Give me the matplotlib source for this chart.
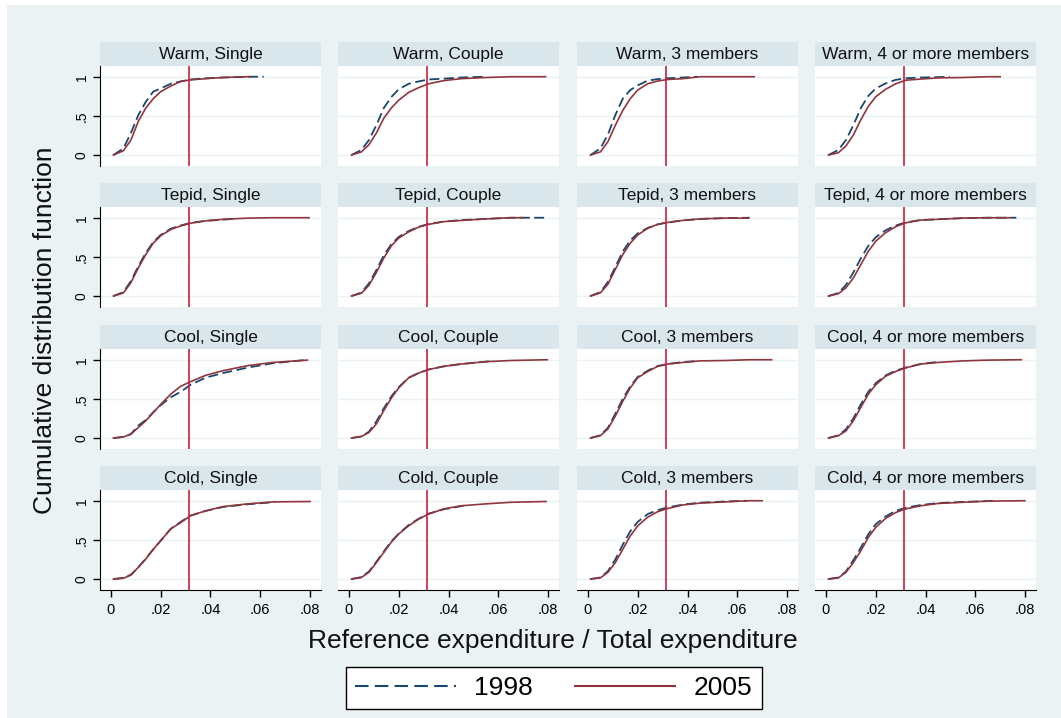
import matplotlib
matplotlib.use('Agg')
import matplotlib.pyplot as plt
from matplotlib.lines import Line2D
from matplotlib.patches import Rectangle

# ---------------- data ----------------
CLIMATES = ["Warm", "Tepid", "Cool", "Cold"]
HOUSEHOLDS = ["Single", "Couple", "3 members", "4 or more members"]
YEARS = ["1998", "2005"]
X_TICKS = [0, 0.02, 0.04, 0.06, 0.08]
X_TICK_LABELS = ["0", ".02", ".04", ".06", ".08"]
Y_TICKS = [0, 0.5, 1]
Y_TICK_LABELS = ["0", ".5", "1"]
REF_SHARE = 0.0314  # vertical reference line

# CDF read at these shares (only points below each curve's end are used)
X_GRID = [0.001, 0.005, 0.008, 0.011, 0.014, 0.017, 0.020, 0.024,
          0.028, 0.032, 0.038, 0.045, 0.055, 0.065]

# panels ordered row by row (climate) and column by column (household)
CDF_1998 = [
    [0, .085, .28, .51, .68, .81, .85, .91, .94, .965, .98, .99, 1.0],
    [0, .065, .19, .38, .60, .74, .84, .91, .94, .965, .975, .99],
    [0, .085, .26, .51, .72, .83, .89, .95, .97, .98, .99],
    [0, .065, .19, .38, .60, .755, .85, .915, .96, .98, .99, .995],
    [0, .05, .19, .38, .55, .69, .78, .86, .90, .935, .96, .975],
    [0, .045, .16, .33, .52, .66, .755, .83, .885, .92, .95, .97, .985, 1.0],
    [0, .05, .18, .37, .57, .71, .80, .87, .915, .94, .965, .985, .995],
    [0, .04, .14, .30, .48, .64, .75, .84, .90, .94, .97, .98, .995, 1.0],
    [0, .015, .05, .16, .23, .33, .42, .52, .59, .68, .77, .83, .90, .955],
    [0, .02, .08, .21, .38, .53, .65, .77, .83, .875, .915, .945, .975],
    [0, .035, .13, .31, .50, .66, .78, .86, .92, .945, .97],
    [0, .035, .11, .25, .43, .59, .70, .80, .86, .90, .945],
    [0, .015, .055, .15, .26, .38, .49, .64, .73, .81, .87, .92, .955, .98],
    [0, .025, .095, .22, .35, .48, .58, .69, .77, .835, .89, .93],
    [0, .02, .10, .25, .44, .61, .73, .83, .88, .915, .95, .975, .99],
    [0, .02, .095, .24, .40, .57, .70, .80, .87, .91, .945, .97, .985, .995],
]
END_X_1998 = [0.0614, 0.0545, 0.044, 0.0497, 0.049, 0.0797, 0.065, 0.0765,
              0.0775, 0.058, 0.0443, 0.0443, 0.066, 0.0465, 0.0638, 0.0685]
END_Y_1998 = [1.0, 1.0, 1.0, 1.0, 0.985, 1.0, 1.0, 1.0,
              0.995, 0.99, 0.985, 0.97, 0.985, 0.94, 1.0, 1.0]

CDF_2005 = [
    [0, .055, .19, .43, .60, .72, .81, .88, .94, .96, .975, .99, 1.0],
    [0, .04, .13, .28, .47, .60, .70, .80, .86, .91, .95, .975, .99, 1.0],
    [0, .04, .17, .38, .57, .72, .83, .91, .945, .965, .975, 1.0, 1.0, 1.0],
    [0, .03, .115, .255, .45, .62, .745, .84, .91, .955, .97, .985, .99, 1.0],
    [0, .04, .17, .36, .53, .675, .77, .85, .895, .93, .96, .98, .995, 1.0],
    [0, .035, .135, .30, .485, .64, .74, .82, .88, .915, .95, .965, .985, 1.0],
    [0, .04, .15, .34, .53, .675, .78, .865, .915, .94, .965, .985, .995],
    [0, .03, .105, .23, .40, .57, .70, .81, .885, .935, .97, .98, .995, 1.0],
    [0, .013, .05, .135, .22, .325, .43, .56, .66, .72, .80, .86, .925, .965],
    [0, .02, .07, .18, .35, .51, .64, .77, .83, .875, .915, .945, .975, .99],
    [0, .03, .115, .28, .47, .64, .77, .85, .915, .945, .965, .985, .99, 1.0],
    [0, .03, .09, .22, .39, .56, .68, .79, .85, .895, .945, .965, .985, .995],
    [0, .01, .05, .15, .255, .38, .49, .64, .72, .81, .87, .925, .96, .985],
    [0, .02, .085, .21, .34, .47, .575, .68, .765, .83, .895, .935, .96, .98],
    [0, .015, .085, .21, .38, .55, .68, .79, .86, .90, .945, .97, .985, 1.0],
    [0, .015, .085, .21, .36, .53, .66, .775, .85, .895, .935, .965, .98, .995],
]
END_X_2005 = [0.056, 0.079, 0.0668, 0.070, 0.0796, 0.070, 0.0644, 0.0741,
              0.0789, 0.0797, 0.0738, 0.0785, 0.080, 0.0792, 0.070, 0.0799]
END_Y_2005 = [1.0, 1.0, 1.0, 1.0, 1.0, 1.0, 0.995, 1.0,
              0.995, 1.0, 1.0, 1.0, 0.99, 0.99, 1.0, 1.0]

# ---------------- style ----------------
BG = '#EAF2F3'
STRIP = '#D9E6EB'
C1998 = '#1A476F'
C2005 = '#90353B'
CREF = '#C8203F'

plt.rcParams['font.family'] = ['Liberation Sans', 'DejaVu Sans']

W, H = 1061, 718
fig = plt.figure(figsize=(W / 100, H / 100), dpi=100, facecolor='white')


def fx(px):
    return px / W


def fy(py):
    return 1 - py / H


# graph region (white margin at top and left, as in the reference)
fig.patches.append(Rectangle((fx(7), 0), 1 - fx(7), fy(5), transform=fig.transFigure,
                             facecolor=BG, edgecolor='none', zorder=-10))

COL_X = [100, 338, 577, 815]
PW = 221
STRIP_TOP = [42, 183, 325, 466]
SH = 24
PH = 100


def curve(vals, end_x, end_y):
    xs, ys = [], []
    for gx, v in zip(X_GRID, vals):
        if gx < end_x:
            xs.append(gx)
            ys.append(v)
    xs.append(end_x)
    ys.append(end_y)
    return xs, ys


for r in range(4):
    for c in range(4):
        k = r * 4 + c
        x0 = COL_X[c]
        st = STRIP_TOP[r]
        sax = fig.add_axes([fx(x0), fy(st + SH), PW / W, SH / H])
        sax.set_facecolor(STRIP)
        sax.set_xticks([])
        sax.set_yticks([])
        for s in sax.spines.values():
            s.set_visible(False)
        sax.text(0.5, 0.47, f"{CLIMATES[r]}, {HOUSEHOLDS[c]}", ha='center',
                 va='center', fontsize=12.5, color='#111111')

        ax = fig.add_axes([fx(x0), fy(st + SH + PH), PW / W, PH / H])
        ax.set_facecolor('white')
        ax.set_xlim(-0.0044, 0.0844)
        ax.set_ylim(-0.14, 1.137)
        ax.set_yticks(Y_TICKS)
        ax.set_xticks(X_TICKS)
        ax.grid(axis='y', color=BG, lw=1.0)
        ax.set_axisbelow(True)
        for s in ax.spines.values():
            s.set_visible(False)

        xs, ys = curve(CDF_1998[k], END_X_1998[k], END_Y_1998[k])
        ax.plot(xs, ys, color=C1998, lw=1.3, linestyle=(0, (5.5, 2.5)))
        xs, ys = curve(CDF_2005[k], END_X_2005[k], END_Y_2005[k])
        ax.plot(xs, ys, color=C2005, lw=1.2)
        ax.axvline(REF_SHARE, color=CREF, lw=1.2)

        if c == 0:
            ax.spines['left'].set_visible(True)
            ax.spines['left'].set_color('black')
            ax.set_yticklabels(Y_TICK_LABELS, rotation=90, va='center',
                               fontsize=10)
            ax.tick_params(axis='y', direction='out', length=5, width=1,
                           pad=3)
        else:
            ax.tick_params(axis='y', left=False, labelleft=False)
        if r == 3:
            ax.spines['bottom'].set_visible(True)
            ax.spines['bottom'].set_color('black')
            ax.set_xticklabels(X_TICK_LABELS, fontsize=10.5)
            ax.tick_params(axis='x', direction='out', length=5, width=1,
                           pad=4)
        else:
            ax.tick_params(axis='x', bottom=False, labelbottom=False)

fig.text(fx(45), fy(330), "Cumulative distribution function", rotation=90,
         ha='center', va='center', fontsize=19, color='#111111')
fig.text(fx(553), fy(641), "Reference expenditure / Total expenditure",
         ha='center', va='center', fontsize=19, color='#111111')

handles = [Line2D([], [], color=C1998, lw=1.5, linestyle=(0, (6.5, 3))),
           Line2D([], [], color=C2005, lw=1.5)]
leg = fig.legend(handles, YEARS, ncol=2, loc='center',
                 bbox_to_anchor=(fx(554), fy(688)), frameon=True,
                 fancybox=False, edgecolor='black', facecolor='white',
                 framealpha=1, fontsize=19, handlelength=3.8,
                 handletextpad=0.7, columnspacing=1.6, borderpad=0.35)
leg.get_frame().set_linewidth(1.0)

fig.savefig('out.png', dpi=100, facecolor='white')
